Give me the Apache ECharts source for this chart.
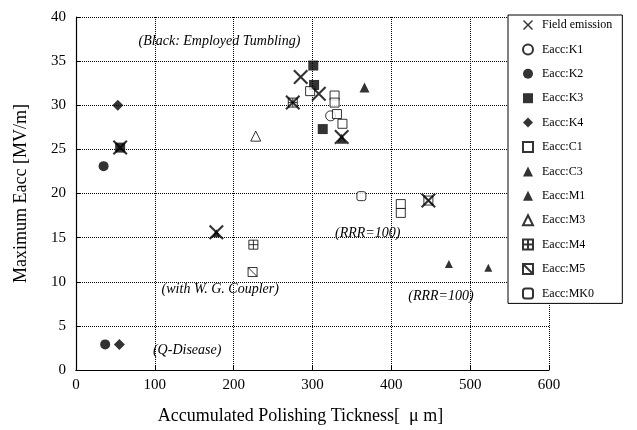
<!DOCTYPE html>
<html>
<head>
<meta charset="UTF-8">
<title>Eacc vs polishing</title>
<script src="https://cdn.jsdelivr.net/npm/echarts@6/dist/echarts.min.js"></script>
<style>
	html, body { margin: 0; padding: 0; background: #fff; }
	#chart { width: 637px; height: 430px; }
</style>
</head>
<body>
<div id="chart"></div>
<script>
// ---- data: [polishing um, Eacc MV/m] ----
var fieldEmission = [[56, 25.2], [178, 15.6], [275, 30.3], [285, 33.2], [308, 31.3], [337, 26.4], [447, 19.2]];
var k1 = [[323, 28.8]];
var k2 = [[35, 23.1], [37, 2.9]];
var k3 = [[56, 25.2], [301, 34.5], [302, 32.3], [313, 27.3]];
var k4 = [[53, 30.0], [55, 2.9]];
var c1 = [[297, 31.6], [328, 31.1], [328, 30.3], [331, 29.0], [338, 27.9], [412, 18.8], [412, 17.8]];
var c3 = [[366, 32.0], [337, 26.2]];
var m1 = [[178, 15.5], [473, 12.0], [523, 11.6]];
var m3 = [[228, 26.5]];
var m4 = [[275, 30.3], [225, 14.2]];
var m5 = [[224, 11.1], [447, 19.2]];
var mk0 = [[362, 19.7]];

var xTicks = [0, 600, 100];
var yTicks = [0, 40, 5];

// notes on the plot, [x, y, text]
var notes = [
	[182, 37.2, '(Black: Employed Tumbling)'],
	[183, 9.1, '(with W. G. Coupler)'],
	[141, 2.2, '(Q-Disease)'],
	[370, 15.5, '(RRR=100)'],
	[463, 8.4, '(RRR=100)']
];

var serif = "'Liberation Serif', 'Times New Roman', serif";

var crossPath = 'path://M0,1 L1,0 L5,4 L9,0 L10,1 L6,5 L10,9 L9,10 L5,6 L1,10 L0,9 L4,5 Z';
var plusBox = 'path://M0,0 H10 V10 H0 Z M5,0 V10 M0,5 H10';
var slashBox = 'path://M0,0 H10 V10 H0 Z M0,0 L10,10';

function mk(name, data, symbol, size, filled, z){
	return {
		name: name,
		type: 'scatter',
		data: data,
		symbol: symbol,
		symbolSize: size,
		z: z || 2,
		itemStyle: filled ? { color: '#000', borderWidth: 0 } :
			{ color: '#fff', borderColor: '#000', borderWidth: 1 }
	};
}

var chart = echarts.init(document.getElementById('chart'));

var series = [
	mk('Eacc:K1', k1, 'circle', 10, false),
	mk('Eacc:K2', k2, 'circle', 10, true),
	mk('Eacc:K3', k3, 'rect', 10, true),
	mk('Eacc:K4', k4, 'diamond', 11, true),
	mk('Eacc:C1', c1, 'rect', 9, false),
	mk('Eacc:C3', c3, 'triangle', 10, true),
	mk('Eacc:M1', m1, 'triangle', 8, true),
	mk('Eacc:M3', m3, 'triangle', 10, false),
	mk('Eacc:M4', m4, plusBox, 9, false),
	mk('Eacc:M5', m5, slashBox, 9, false),
	mk('Eacc:MK0', mk0, 'roundRect', 9, false),
	mk('Field emission', fieldEmission, crossPath, 15, true, 5)
];

var option = {
	animation: false,
	backgroundColor: '#fff',
	textStyle: { fontFamily: serif, color: '#000' },
	grid: { left: 76, right: 88, top: 17, bottom: 57 },
	legend: {
		orient: 'vertical',
		left: 508,
		top: 15,
		width: 129,
		padding: [4, 10, 4, 14],
		itemGap: 12.4,
		itemWidth: 10,
		itemHeight: 10,
		borderColor: '#000',
		borderWidth: 1,
		backgroundColor: '#fff',
		textStyle: { fontFamily: serif, fontSize: 12, color: '#000', padding: [0, 0, 0, 4] },
		data: ['Field emission', 'Eacc:K1', 'Eacc:K2', 'Eacc:K3', 'Eacc:K4', 'Eacc:C1',
			'Eacc:C3', 'Eacc:M1', 'Eacc:M3', 'Eacc:M4', 'Eacc:M5', 'Eacc:MK0'],
		z: 10
	},
	xAxis: [{
		type: 'value',
		min: xTicks[0], max: xTicks[1], interval: xTicks[2],
		name: 'Accumulated Polishing Tickness[  \u03bc m]',
		nameLocation: 'middle',
		nameGap: 37,
		nameTextStyle: { fontFamily: serif, fontSize: 18, color: '#000', padding: [0, 24, 0, 0] },
		axisLine: { lineStyle: { color: '#000', width: 1.2 } },
		axisTick: { show: true, inside: true, length: 4, lineStyle: { color: '#000' } },
		axisLabel: { fontFamily: serif, fontSize: 15, color: '#000', margin: 8 },
		splitLine: { show: true, lineStyle: { color: '#000', type: 'dotted', width: 1 } }
	}, {
		type: 'value', position: 'top',
		min: xTicks[0], max: xTicks[1], interval: xTicks[2],
		axisLine: { show: true, lineStyle: { color: '#000', type: 'dashed', width: 1 } },
		axisTick: { show: false }, axisLabel: { show: false }, splitLine: { show: false }
	}],
	yAxis: [{
		type: 'value',
		min: yTicks[0], max: yTicks[1], interval: yTicks[2],
		name: 'Maximum Eacc [MV/m]',
		nameLocation: 'middle',
		nameGap: 46,
		nameTextStyle: { fontFamily: serif, fontSize: 18, color: '#000' },
		axisLine: { show: true, lineStyle: { color: '#000', width: 1.2 } },
		axisTick: { show: true, inside: true, length: 4, lineStyle: { color: '#000' } },
		axisLabel: { fontFamily: serif, fontSize: 15, color: '#000', margin: 10 },
		splitLine: { show: true, lineStyle: { color: '#000', type: 'dotted', width: 1 } }
	}, {
		type: 'value', position: 'right',
		min: yTicks[0], max: yTicks[1], interval: yTicks[2],
		axisLine: { show: true, lineStyle: { color: '#000', type: 'dashed', width: 1 } },
		axisTick: { show: false }, axisLabel: { show: false }, splitLine: { show: false }
	}],
	series: series
};

chart.setOption(option);

// notes placed in data coordinates
chart.setOption({
	graphic: notes.map(function(n){
		var p = chart.convertToPixel({ xAxisIndex: 0, yAxisIndex: 0 }, [n[0], n[1]]);
		return {
			type: 'text',
			x: p[0], y: p[1],
			z: 8,
			silent: true,
			style: {
				text: n[2],
				fill: '#000',
				align: 'center',
				verticalAlign: 'middle',
				font: 'italic 14px ' + serif
			}
		};
	})
});
</script>
</body>
</html>
